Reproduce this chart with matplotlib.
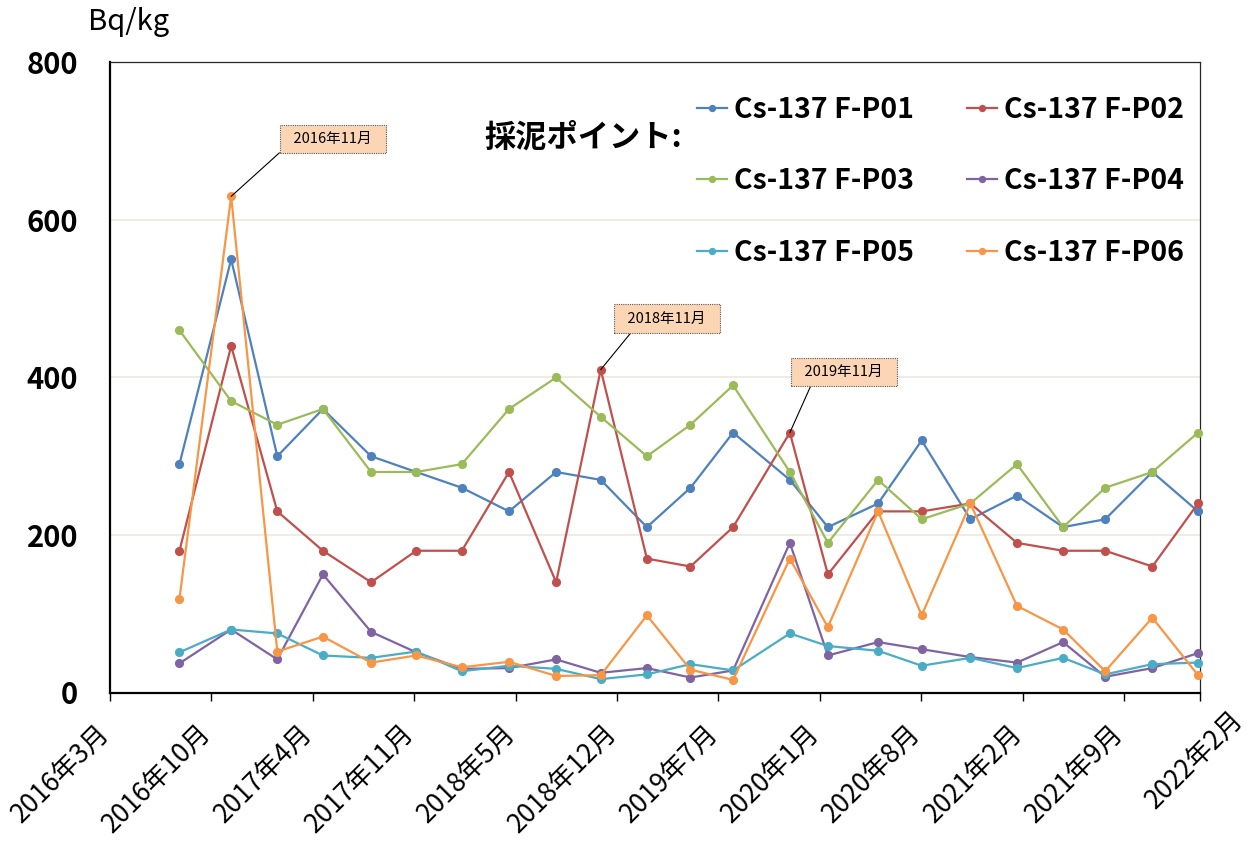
import numpy as np
import matplotlib
matplotlib.use("Agg")
import matplotlib.pyplot as plt
from matplotlib.transforms import ScaledTranslation, blended_transform_factory
from datetime import date, timedelta

plt.rcParams['font.family'] = ['Noto Sans CJK JP', 'DejaVu Sans']

# ---------------- data ----------------
sample_dates = ["2016-08-04", "2016-11-14", "2017-02-13", "2017-05-14", "2017-08-17",
                "2017-11-14", "2018-02-12", "2018-05-16", "2018-08-17", "2018-11-13",
                "2019-02-12", "2019-05-09", "2019-08-01", "2019-11-21", "2020-02-04",
                "2020-05-13", "2020-08-07", "2020-11-11", "2021-02-11", "2021-05-13",
                "2021-08-04", "2021-11-05", "2022-02-03"]

p01 = [290, 550, 300, 360, 300, 280, 260, 230, 280, 270, 210, 260, 330, 270, 210, 240, 320, 220, 250, 210, 220, 280, 230]
p02 = [180, 440, 230, 180, 140, 180, 180, 280, 140, 410, 170, 160, 210, 330, 150, 230, 230, 240, 190, 180, 180, 160, 240]
p03 = [460, 370, 340, 360, 280, 280, 290, 360, 400, 350, 300, 340, 390, 280, 190, 270, 220, 240, 290, 210, 260, 280, 330]
p04 = [37, 80, 42, 150, 77, 51, 30, 31, 42, 25, 31, 19, 28, 190, 47, 64, 55, 45, 38, 64, 20, 31, 50]
p05 = [51, 80, 75, 47, 44, 52, 27, 34, 30, 17, 23, 36, 28, 75, 59, 53, 34, 44, 31, 44, 23, 36, 38]
p06 = [119, 630, 52, 71, 38, 47, 32, 39, 21, 22, 98, 29, 16, 170, 83, 230, 98, 240, 110, 80, 27, 95, 22]

series_names = ["Cs-137 F-P01", "Cs-137 F-P02", "Cs-137 F-P03",
                "Cs-137 F-P04", "Cs-137 F-P05", "Cs-137 F-P06"]
series_values = [p01, p02, p03, p04, p05, p06]
series_colors = ["#4F81BD", "#C0504D", "#9BBB59", "#8064A2", "#4BACC6", "#F79646"]

# callouts: (series index, point index, label)
callouts = [(5, 1, "2016年11月"), (1, 9, "2018年11月"), (1, 13, "2019年11月")]

axis_min = "2016-03-20"
axis_max = "2022-02-07"
major_unit_days = 200
y_ticks = [0, 200, 400, 600, 800]
y_label = "Bq/kg"
legend_title = "採泥ポイント:"

# ---------------- figure ----------------
W, H, DPI = 1253, 843, 100
fig = plt.figure(figsize=(W / DPI, H / DPI), dpi=DPI)
ax = fig.add_axes([110 / W, 1 - 692.5 / H, 1090 / W, (692.5 - 62.5) / H])

x = [np.datetime64(d) for d in sample_dates]
lines = []
for vals, name, col in zip(series_values, series_names, series_colors):
    ln, = ax.plot(x, vals, color=col, lw=1.6, marker='o', ms=6.6, mew=0,
                  label=name, zorder=3, clip_on=False)
    lines.append(ln)

xmin = np.datetime64(axis_min)
xmax = np.datetime64(axis_max)
ax.set_xlim(xmin, xmax)
ax.set_ylim(0, 800)

# y axis
ax.set_yticks(y_ticks)
ax.set_yticklabels([str(v) for v in y_ticks], fontsize=21, fontweight='bold')
ax.tick_params(axis='y', length=0, pad=23)
ax.yaxis.grid(True, color='#EEECE1', lw=1.3)
ax.set_axisbelow(True)

# x axis ticks every 200 days plus axis max
d0 = date.fromisoformat(axis_min)
tick_dates = [d0 + timedelta(days=major_unit_days * k) for k in range(11)] + [date.fromisoformat(axis_max)]
tick_nums = [np.datetime64(t.isoformat()) for t in tick_dates]
ax.set_xticks(tick_nums)
ax.set_xticklabels([])
ax.tick_params(axis='x', direction='out', length=5.8, width=1.0, color='black')

trans = blended_transform_factory(ax.transData, ax.transAxes)
for i, (t, tn) in enumerate(zip(tick_dates, tick_nums)):
    lab = f"{t.year}年{t.month}月"
    dx, dy = 5, -27
    if i == len(tick_dates) - 1:
        dx, dy = 49, -13
    off = ScaledTranslation(dx / DPI, dy / DPI, fig.dpi_scale_trans)
    ax.text(tn, 0, lab, transform=trans + off, rotation=45, ha='right', va='top',
            fontsize=19, rotation_mode='default')

# spines
for s in ['left', 'bottom']:
    ax.spines[s].set_linewidth(1.6)
    ax.spines[s].set_color('black')
for s in ['top', 'right']:
    ax.spines[s].set_linewidth(0.9)
    ax.spines[s].set_color('#262626')

# unit label
fig.text(88 / W, 1 - 22 / H, y_label, fontsize=21, ha='left', va='center')

# legend (row-wise order: P01 P02 / P03 P04 / P05 P06)
order = [0, 2, 4, 1, 3, 5]
leg = ax.legend(handles=[lines[i] for i in order], ncol=2, frameon=False, loc='upper left',
                bbox_to_anchor=(697 / W, 1 - 96 / H), bbox_transform=fig.transFigure,
                prop={'size': 20.5, 'weight': 'bold'}, handlelength=1.05,
                handletextpad=0.25, columnspacing=1.85, labelspacing=1.52,
                borderpad=0, borderaxespad=0, markerscale=0.8)
fig.text(484 / W, 1 - 138 / H, legend_title, fontsize=22.5, fontweight='bold',
         ha='left', va='center')

# callouts
offsets = [(101.5, 57.5, (0.0, 0.0)), (66, 51, (0.17, 0.0)), (54, 60.5, (0.17, 0.0))]
for (si, pi, lab), (ox, oy, rp) in zip(callouts, offsets):
    ax.annotate("  " + lab + "  ", xy=(x[pi], series_values[si][pi]),
                xytext=(ox, oy), textcoords='offset pixels', ha='center', va='center',
                fontsize=10.5, zorder=5,
                bbox=dict(boxstyle='square,pad=0.5', fc='#FCD5B5', ec='#595959',
                          ls=(0, (1, 1)), lw=0.8),
                arrowprops=dict(arrowstyle='-', color='black', lw=0.8, relpos=rp,
                                shrinkA=0, shrinkB=0))

fig.savefig("out.png", dpi=DPI)
